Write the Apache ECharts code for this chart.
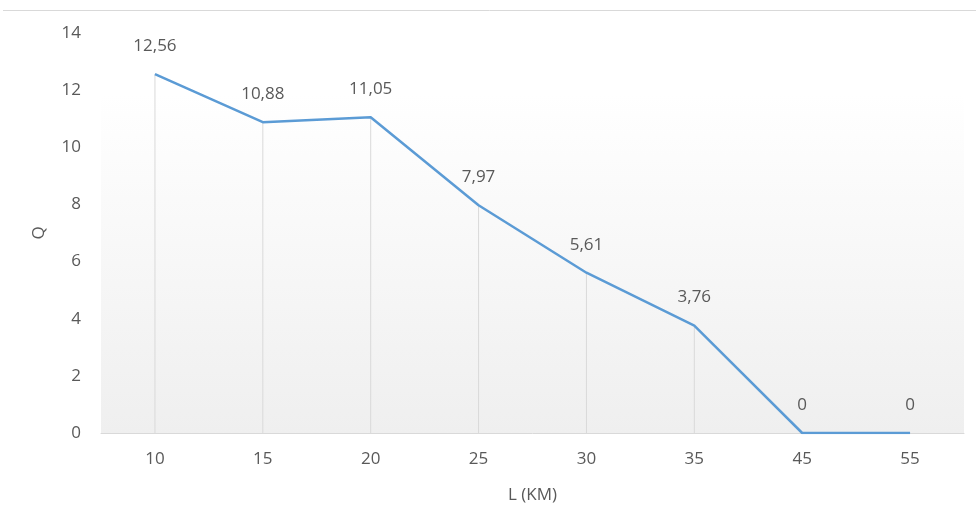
<!DOCTYPE html>
<html>
<head>
<meta charset="utf-8">
<script src="https://cdn.jsdelivr.net/npm/echarts@6/dist/echarts.min.js"></script>
<style>
  html, body { margin: 0; padding: 0; background: #fff; }
  #chart { width: 976px; height: 507px; }
</style>
</head>
<body>
<div id="chart"></div>
<script>
// Distance categories (km) and discharge values
const distances = ['10', '15', '20', '25', '30', '35', '45', '55'];
const qValues = [12.56, 10.88, 11.05, 7.97, 5.61, 3.76, 0, 0];
const yTicks = { min: 0, max: 14, interval: 2 };

const fontFamily = '"Open Sans", "Noto Sans", sans-serif';
const textColor = '#595959';
const fontSize = 17;
const fmtComma = v => String(v).replace('.', ',');

const chart = echarts.init(document.getElementById('chart'));
chart.setOption({
  animation: false,
  backgroundColor: '#ffffff',
  graphic: [{
    type: 'line',
    shape: { x1: 3, y1: 10.5, x2: 976, y2: 10.5 },
    style: { stroke: '#d9d9d9', lineWidth: 1 }
  }],
  grid: {
    left: 101, right: 12, top: 33, bottom: 74,
    outerBoundsMode: 'none',
    containLabel: false,
    show: true,
    borderWidth: 0,
    backgroundColor: {
      type: 'linear', x: 0, y: 0, x2: 0, y2: 1,
      colorStops: [
        { offset: 0, color: '#ffffff' },
        { offset: 0.15, color: '#ffffff' },
        { offset: 1, color: '#efefef' }
      ]
    }
  },
  xAxis: {
    type: 'category',
    data: distances,
    boundaryGap: true,
    name: 'L (KM)',
    nameLocation: 'middle',
    nameGap: 54,
    nameTextStyle: { color: textColor, fontSize, fontFamily },
    axisLine: { lineStyle: { color: '#d9d9d9', width: 1 } },
    axisTick: { show: false },
    axisLabel: { color: textColor, fontSize, fontFamily, margin: 18 }
  },
  yAxis: {
    type: 'value',
    min: yTicks.min, max: yTicks.max, interval: yTicks.interval,
    name: 'Q',
    nameLocation: 'middle',
    nameGap: 53,
    nameRotate: 90,
    nameTextStyle: { color: textColor, fontSize, fontFamily },
    axisLine: { show: false },
    axisTick: { show: false },
    splitLine: { show: false },
    axisLabel: { color: textColor, fontSize, fontFamily, margin: 20 }
  },
  series: [
    {
      // vertical drop lines from each point down to the axis
      type: 'bar',
      data: qValues,
      barWidth: 1,
      itemStyle: { color: '#d9d9d9' },
      silent: true,
      z: 1
    },
    {
      type: 'line',
      data: qValues,
      showSymbol: true,
      symbol: 'circle',
      symbolSize: 1,
      itemStyle: { color: 'rgba(0,0,0,0)' },
      lineStyle: { color: '#5b9bd5', width: 2.5 },
      label: {
        show: true,
        position: 'top',
        distance: 19,
        color: textColor,
        fontSize,
        fontFamily,
        formatter: p => fmtComma(p.value)
      },
      labelLayout: { hideOverlap: false },
      z: 3
    }
  ]
});
</script>
</body>
</html>
